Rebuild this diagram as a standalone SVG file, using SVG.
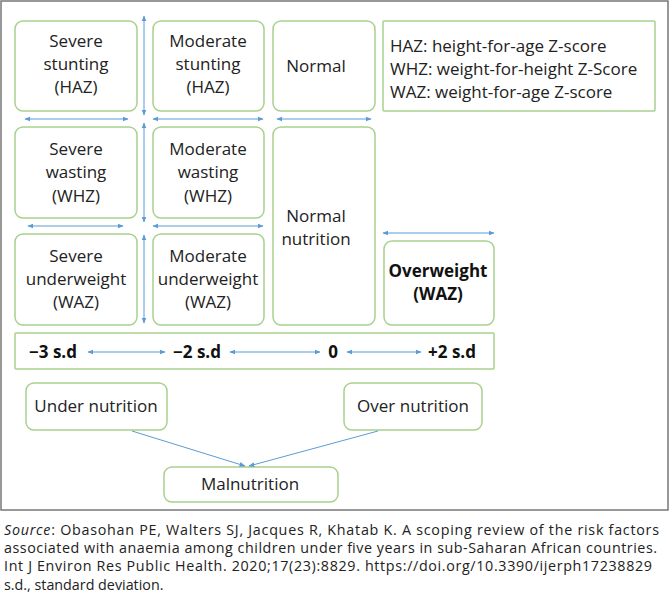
<svg xmlns="http://www.w3.org/2000/svg" width="670" height="609" viewBox="0 0 670 609">
<style>
.b{fill:#fff;stroke:#a9d18e;stroke-width:1.5}
.t{font-family:"Open Sans",sans-serif;font-size:17px;fill:#222;text-anchor:middle}
.l{font-family:"Open Sans",sans-serif;font-size:17px;fill:#222}
.tb{font-family:"Open Sans",sans-serif;font-size:17px;fill:#111;font-weight:bold;text-anchor:middle}
.c{stroke:#5b9bd5;stroke-width:1;fill:none;marker-end:url(#a);marker-start:url(#s)}
.cap{font-family:"Open Sans",sans-serif;font-size:14.3px;fill:#222}
</style>
<defs>
<marker id="a" viewBox="0 0 10 10" refX="9" refY="5" markerWidth="6" markerHeight="6" orient="auto"><path d="M0,1L10,5L0,9z" fill="#5b9bd5"/></marker>
<marker id="s" viewBox="0 0 10 10" refX="1" refY="5" markerWidth="6" markerHeight="6" orient="auto"><path d="M10,1L0,5L10,9z" fill="#5b9bd5"/></marker>
</defs>
<rect x="1" y="1" width="667" height="509" fill="#fff" stroke="#777" stroke-width="1.5"/>
<g id="n1"><rect class="b" x="15" y="21" width="122" height="90" rx="8"/><text class="t" x="76" y="47">Severe</text><text class="t" x="76" y="70">stunting</text><text class="t" x="76" y="93">(HAZ)</text></g>
<g id="n2"><rect class="b" x="153" y="21" width="111" height="90" rx="8"/><text class="t" x="208" y="47">Moderate</text><text class="t" x="208" y="70">stunting</text><text class="t" x="208" y="93">(HAZ)</text></g>
<g id="n3"><rect class="b" x="273" y="21" width="102" height="90" rx="8"/><text class="t" x="316" y="72">Normal</text></g>
<g id="legend"><rect class="b" x="383" y="21" width="272" height="90" rx="1"/><text class="l" x="390" y="52">HAZ: height-for-age Z-score</text><text class="l" x="390" y="75">WHZ: weight-for-height Z-Score</text><text class="l" x="390" y="98">WAZ: weight-for-age Z-score</text></g>
<g id="n4"><rect class="b" x="15" y="127" width="122" height="91" rx="8"/><text class="t" x="76" y="155">Severe</text><text class="t" x="76" y="178">wasting</text><text class="t" x="76" y="202">(WHZ)</text></g>
<g id="n5"><rect class="b" x="153" y="127" width="111" height="91" rx="8"/><text class="t" x="208" y="155">Moderate</text><text class="t" x="208" y="178">wasting</text><text class="t" x="208" y="202">(WHZ)</text></g>
<g id="n6"><rect class="b" x="273" y="127" width="102" height="198" rx="8"/><text class="t" x="316" y="222">Normal</text><text class="t" x="316" y="245">nutrition</text></g>
<g id="n7"><rect class="b" x="15" y="234" width="122" height="91" rx="8"/><text class="t" x="76" y="262">Severe</text><text class="t" x="76" y="285">underweight</text><text class="t" x="76" y="308">(WAZ)</text></g>
<g id="n8"><rect class="b" x="153" y="234" width="111" height="91" rx="8"/><text class="t" x="208" y="262">Moderate</text><text class="t" x="208" y="285">underweight</text><text class="t" x="208" y="308">(WAZ)</text></g>
<g id="n9"><rect class="b" x="384" y="241" width="110" height="84" rx="8"/><text class="tb" x="438" y="277">Overweight</text><text class="tb" x="438" y="300">(WAZ)</text></g>
<g id="scale"><rect class="b" x="15" y="333" width="479" height="36" rx="1"/><text class="tb" x="53" y="358">−3 s.d</text><text class="tb" x="197" y="358">−2 s.d</text><text class="tb" x="333" y="358">0</text><text class="tb" x="452" y="358">+2 s.d</text></g>
<g id="under"><rect class="b" x="26" y="383" width="141" height="47" rx="8"/><text class="t" x="96" y="412">Under nutrition</text></g>
<g id="over"><rect class="b" x="344" y="383" width="138" height="47" rx="8"/><text class="t" x="413" y="412">Over nutrition</text></g>
<g id="mal"><rect class="b" x="164" y="467" width="174" height="35" rx="8"/><text class="t" x="250" y="490">Malnutrition</text></g>
<g id="connectors">
<line class="c" x1="144" y1="16" x2="144" y2="115"/>
<line class="c" x1="144" y1="123" x2="144" y2="222"/>
<line class="c" x1="144" y1="235" x2="144" y2="323"/>
<line class="c" x1="25" y1="119" x2="128" y2="119"/>
<line class="c" x1="153" y1="119" x2="263" y2="119"/>
<line class="c" x1="277" y1="119" x2="371" y2="119"/>
<line class="c" x1="28" y1="226" x2="123" y2="226"/>
<line class="c" x1="153" y1="226" x2="263" y2="226"/>
<line class="c" x1="383" y1="233" x2="494" y2="233"/>
<line class="c" x1="88" y1="352" x2="165" y2="352"/>
<line class="c" x1="230" y1="352" x2="320" y2="352"/>
<line class="c" x1="347" y1="352" x2="421" y2="352"/>
<line stroke="#5b9bd5" stroke-width="1" marker-end="url(#a)" x1="132" y1="431" x2="245" y2="466"/>
<line stroke="#5b9bd5" stroke-width="1" marker-end="url(#a)" x1="378" y1="431" x2="249" y2="466"/>
</g>
<text class="cap" x="4" y="535" textLength="655" lengthAdjust="spacing"><tspan font-style="italic">Source</tspan>: Obasohan PE, Walters SJ, Jacques R, Khatab K. A scoping review of the risk factors</text>
<text class="cap" x="4" y="553" textLength="653" lengthAdjust="spacing">associated with anaemia among children under five years in sub-Saharan African countries.</text>
<text class="cap" x="4" y="571" textLength="648" lengthAdjust="spacing">Int J Environ Res Public Health. 2020;17(23):8829. https://doi.org/10.3390/ijerph17238829</text>
<text class="cap" x="4" y="590">s.d., standard deviation.</text>
</svg>
